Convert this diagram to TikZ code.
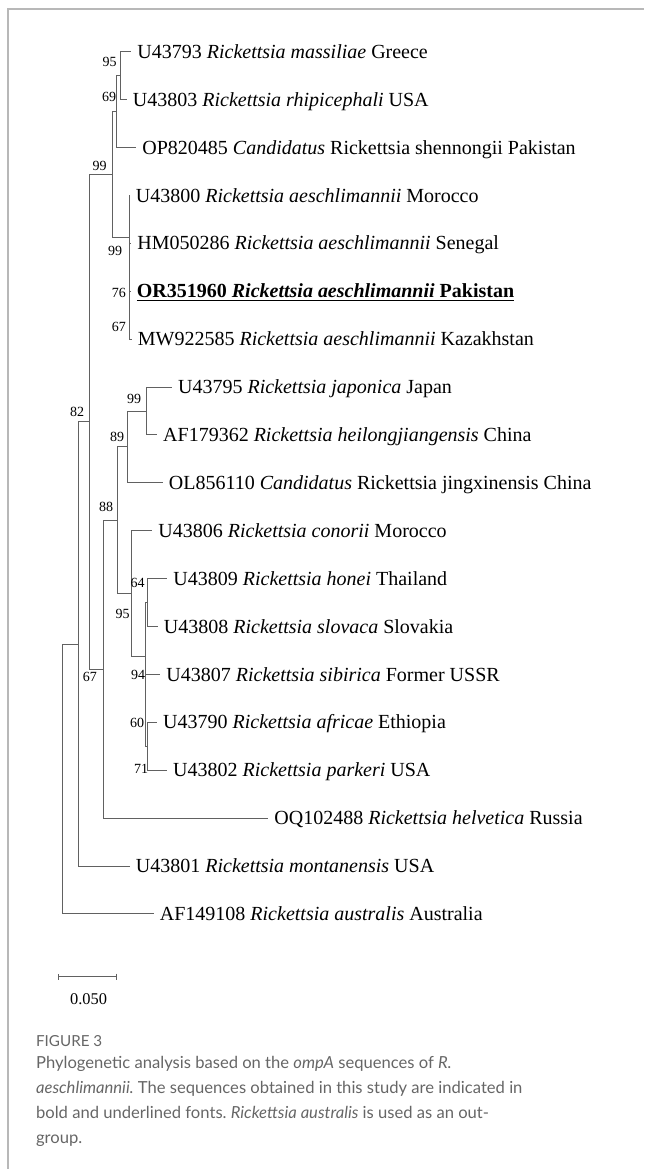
\documentclass[tikz,border=0pt]{standalone}
\usepackage{fontspec}
\setmainfont{Liberation Serif}
\newfontfamily\capfont{Lato}
\usetikzlibrary{arrows.meta}
\definecolor{branchGray}{gray}{0.38}
\definecolor{frameGray}{gray}{0.72}
\definecolor{capGray}{gray}{0.40}
\frenchspacing

\begin{document}
\begin{tikzpicture}[x=0.5pt, y=-0.5pt,
    taxon/.style={anchor=west, inner sep=3pt, font=\fontsize{10}{12}\selectfont, text height=6.6pt, text depth=0pt},
    boot/.style={inner sep=0pt, font=\fontsize{7}{8}\selectfont},
    branch/.style={branchGray, line width=0.5pt},
    caption/.style={anchor=base west, inner sep=0pt, capGray, font=\capfont\fontsize{8.3}{10}\selectfont}]
    \useasboundingbox (0,0) rectangle (644,1169);
    \draw[frameGray, line width=0.8pt] (8,1169) -- (8,9) -- (644,9);

    % taxa
    \node[taxon] (t1) at (131,51.7) {U43793 \textit{Rickettsia massiliae} Greece};
    \node[taxon] (t2) at (126.5,99.6) {U43803 \textit{Rickettsia rhipicephali} USA};
    \node[taxon] (t3) at (136,147.5) {OP820485 \textit{Candidatus} Rickettsia shennongii Pakistan};
    \node[taxon] (t4) at (129.5,195.4) {U43800 \textit{Rickettsia aeschlimannii} Morocco};
    \node[taxon] (t5) at (131,243.3) {HM050286 \textit{Rickettsia aeschlimannii} Senegal};
    \node[taxon] (t6) at (130.5,291.2) {\underline{\textbf{OR351960 \textit{Rickettsia aeschlimannii} Pakistan}}};
    \node[taxon] (t7) at (131.5,339.1) {MW922585 \textit{Rickettsia aeschlimannii} Kazakhstan};
    \node[taxon] (t8) at (171.7,387) {U43795 \textit{Rickettsia japonica} Japan};
    \node[taxon] (t9) at (156.8,434.9) {AF179362 \textit{Rickettsia heilongjiangensis} China};
    \node[taxon] (t10) at (162.5,482.8) {OL856110 \textit{Candidatus} Rickettsia jingxinensis China};
    \node[taxon] (t11) at (152,530.7) {U43806 \textit{Rickettsia conorii} Morocco};
    \node[taxon] (t12) at (167,578.6) {U43809 \textit{Rickettsia honei} Thailand};
    \node[taxon] (t13) at (157.5,626.5) {U43808 \textit{Rickettsia slovaca} Slovakia};
    \node[taxon] (t14) at (160,674.4) {U43807 \textit{Rickettsia sibirica} Former USSR};
    \node[taxon] (t15) at (156.8,722.3) {U43790 \textit{Rickettsia africae} Ethiopia};
    \node[taxon] (t16) at (166.8,770.2) {U43802 \textit{Rickettsia parkeri} USA};
    \node[taxon] (t17) at (268,818.1) {OQ102488 \textit{Rickettsia helvetica} Russia};
    \node[taxon] (t18) at (129.5,866) {U43801 \textit{Rickettsia montanensis} USA};
    \node[taxon] (t19) at (153.5,913.9) {AF149108 \textit{Rickettsia australis} Australia};

    % internal nodes
    \coordinate (nA) at (120.5,75.65);
    \coordinate (nB) at (116.5,111.6);
    \coordinate (nF) at (129.3,315.15);
    \coordinate (nE) at (129.8,279.2);
    \coordinate (nD) at (129,237.3);
    \coordinate (nC) at (112.5,174.5);
    \coordinate (nN) at (146,411);
    \coordinate (nL) at (127.5,446.9);
    \coordinate (nP) at (147.5,602.6);
    \coordinate (nS) at (147,746.3);
    \coordinate (nQ) at (145.5,710.3);
    \coordinate (nO) at (145,656.5);
    \coordinate (nM) at (131.7,593.6);
    \coordinate (nK) at (117.7,520.3);
    \coordinate (nJ) at (103.3,669.2);
    \coordinate (nI) at (89,421.9);
    \coordinate (nG) at (78.3,644);
    \coordinate (nR) at (62.3,779);

    % branches
    \draw[branch] (nA) |- (t1.west) (nA) |- (t2.west);
    \draw[branch] (nB) |- (nA) (nB) |- (t3.west);
    \draw[branch] (nF) |- (t6.west) (nF) |- (t7.west);
    \draw[branch] (nE) |- (t5.west) (nE) |- (nF);
    \draw[branch] (nD) |- (t4.west) (nD) |- (nE);
    \draw[branch] (nC) |- (nB) (nC) |- (nD);
    \draw[branch] (nN) |- (t8.west) (nN) |- (t9.west);
    \draw[branch] (nL) |- (nN) (nL) |- (t10.west);
    \draw[branch] (nP) |- (t12.west) (nP) |- (t13.west);
    \draw[branch] (nS) |- (t15.west) (nS) |- (t16.west);
    \draw[branch] (nQ) |- (t14.west) (nQ) |- (nS);
    \draw[branch] (nO) |- (nP) (nO) |- (nQ);
    \draw[branch] (nM) |- (t11.west) (nM) |- (nO);
    \draw[branch] (nK) |- (nL) (nK) |- (nM);
    \draw[branch] (nJ) |- (nK) (nJ) |- (t17.west);
    \draw[branch] (nI) |- (nC) (nI) |- (nJ);
    \draw[branch] (nG) |- (nI) (nG) |- (t18.west);
    \draw[branch] (nR) |- (nG) (nR) |- (t19.west);

    % bootstrap values
    \node[boot] (bA) at (109.5,61.7) {95};
    \node[boot] (bB) at (109,97.3) {69};
    \node[boot] (bC) at (99.5,165.5) {99};
    \node[boot] (bD) at (115,250.7) {99};
    \node[boot] (bE) at (119,292.7) {76};
    \node[boot] (bF) at (119,326.7) {67};
    \node[boot] (bI) at (77,411.7) {82};
    \node[boot] (bN) at (134,399.3) {99};
    \node[boot] (bL) at (117,437.3) {89};
    \node[boot] (bK) at (106,506.7) {88};
    \node[boot] (bJ) at (90,677.3) {67};
    \node[boot] (bP) at (137.5,582.7) {64};
    \node[boot] (bM) at (122.5,614) {95};
    \node[boot] (bO) at (138,675) {94};
    \node[boot] (bQ) at (137,722.7) {60};
    \node[boot] (bS) at (141,769.3) {71};

    % scale bar
    \coordinate (barL) at (57.7,976.7);
    \coordinate (barR) at (117.3,976.7);
    \draw[branch, {Bar[width=3pt]}-{Bar[width=3pt]}] (barL) -- (barR);
    \node[font=\fontsize{8.2}{10}\selectfont] (barTxt) at (88.5,999) {0.050};

    % caption
    \node[caption, font=\capfont\fontsize{7.6}{9}\selectfont] (figNo) at (35.7,1046.7) {FIGURE 3};
    \foreach \txt [count=\i] in {Phylogenetic analysis based on the \textit{ompA} sequences of \textit{R.},
        \textit{aeschlimannii.} The sequences obtained in this study are indicated in,
        bold and underlined fonts. \textit{Rickettsia australis} is used as an out-,
        group.}
        \node[caption] (cap\i) at (35.7,{1068.3+25*(\i-1)}) {\txt};
\end{tikzpicture}
\end{document}
